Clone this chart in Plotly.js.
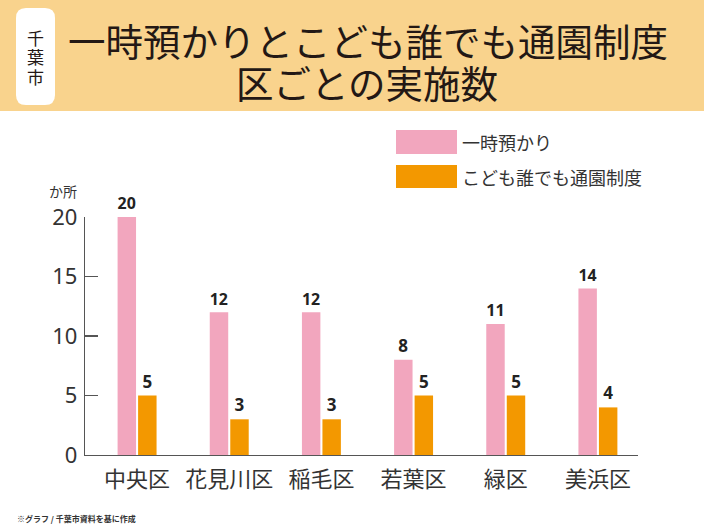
<!DOCTYPE html>
<html>
<head>
<meta charset="utf-8">
<script src="https://cdn.plot.ly/plotly-3.0.1.min.js"></script>
<style>html,body{margin:0;padding:0;background:#fff;}#chart{width:704px;height:528px;}</style>
</head>
<body>
<div id="chart"></div>
<script>
const categories = ["中央区", "花見川区", "稲毛区", "若葉区", "緑区", "美浜区"];
const seriesNames = ["一時預かり", "こども誰でも通園制度"];
const ichijiAzukari = [20, 12, 12, 8, 11, 14];
const daredemoTsuen = [5, 3, 3, 5, 5, 4];
const yTickVals = [0, 5, 10, 15, 20];
const titleLines = ["一時預かりとこども誰でも通園制度", "区ごとの実施数"];
const cityLabel = "千葉市";
const unitLabel = "か所";
const sourceNote = "※グラフ / 千葉市資料を基に作成";

const W = 704, H = 528;
const L = 85, R = 66, T = 217, B = 73;
const pw = W - L - R, ph = H - T - B;
const px = x => (x - L) / pw;
const py = y => (H - B - y) / ph;

const pink = "#F2A6BE", orange = "#F39800";
const JP = "Noto Sans CJK JP, Noto Sans, sans-serif";

const traces = [
  {type: "bar", x: categories, y: ichijiAzukari, name: seriesNames[0],
   marker: {color: pink}, texttemplate: "%{y}", textposition: "outside",
   textfont: {family: "Open Sans, sans-serif", size: 17, color: "#222", weight: 700},
   cliponaxis: false, hoverinfo: "none"},
  {type: "bar", x: categories, y: daredemoTsuen, name: seriesNames[1],
   marker: {color: orange}, texttemplate: "%{y}", textposition: "outside",
   textfont: {family: "Open Sans, sans-serif", size: 17, color: "#222", weight: 700},
   cliponaxis: false, hoverinfo: "none"}
];

function roundRect(x0, y0, x1, y1, r) {
  const X0 = px(x0), X1 = px(x1), Y0 = py(y0), Y1 = py(y1);
  const rx = r / pw, ry = r / ph;
  return `M ${X0 + rx} ${Y0} L ${X1 - rx} ${Y0} Q ${X1} ${Y0} ${X1} ${Y0 - ry} L ${X1} ${Y1 + ry} Q ${X1} ${Y1} ${X1 - rx} ${Y1} L ${X0 + rx} ${Y1} Q ${X0} ${Y1} ${X0} ${Y1 + ry} L ${X0} ${Y0 - ry} Q ${X0} ${Y0} ${X0 + rx} ${Y0} Z`;
}

const shapes = [
  {type: "rect", xref: "paper", yref: "paper", x0: px(0), x1: px(W), y0: py(0), y1: py(111),
   fillcolor: "#F9D38D", line: {width: 0}, layer: "below"},
  {type: "path", xref: "paper", yref: "paper", path: roundRect(16, 8, 55, 105, 10),
   fillcolor: "#FFFFFF", line: {width: 0}},
  {type: "rect", xref: "paper", yref: "paper", x0: px(396), x1: px(457), y0: py(130), y1: py(154),
   fillcolor: pink, line: {width: 0}},
  {type: "rect", xref: "paper", yref: "paper", x0: px(396), x1: px(457), y0: py(165), y1: py(188),
   fillcolor: orange, line: {width: 0}}
];

const annotations = [
  {text: titleLines[0], xref: "paper", yref: "paper", x: px(368), y: py(39), showarrow: false,
   xanchor: "center", yanchor: "middle", font: {family: JP, size: 37.5, color: "#231815"}},
  {text: titleLines[1], xref: "paper", yref: "paper", x: px(367), y: py(81), showarrow: false,
   xanchor: "center", yanchor: "middle", font: {family: JP, size: 37.5, color: "#231815"}},
  {text: unitLabel, xref: "paper", yref: "paper", x: px(79), y: py(191), showarrow: false,
   xanchor: "right", yanchor: "middle", font: {family: JP, size: 14, color: "#333"}},
  {text: sourceNote, xref: "paper", yref: "paper", x: px(15), y: py(518), showarrow: false,
   xanchor: "left", yanchor: "middle", font: {family: JP, size: 8, color: "#333", weight: 700}}
];

cityLabel.split("").forEach((ch, i) => {
  annotations.push({text: ch, xref: "paper", yref: "paper", x: px(35), y: py(37 + i * 19.5), showarrow: false,
    xanchor: "center", yanchor: "middle", font: {family: JP, size: 17, color: "#231815"}});
});
seriesNames.forEach((nm, i) => {
  annotations.push({text: nm, xref: "paper", yref: "paper", x: px(460), y: py(142 + i * 34.5), showarrow: false,
    xanchor: "left", yanchor: "middle", font: {family: JP, size: 18, color: "#333"}});
});

const layout = {
  width: W, height: H,
  margin: {l: L, r: R, t: T, b: B, pad: 0},
  paper_bgcolor: "#FFFFFF", plot_bgcolor: "rgba(0,0,0,0)",
  showlegend: false,
  barmode: "group", bargap: 0.555, bargroupgap: 0.1,
  font: {family: JP, color: "#333"},
  xaxis: {type: "category", range: [-0.565, 5.435], showline: true, linecolor: "#555", linewidth: 1.2,
          ticks: "", showgrid: false, zeroline: false, fixedrange: true,
          tickfont: {family: JP, size: 22, color: "#333"}, ticklabelstandoff: 4},
  yaxis: {range: [0, 20], tickvals: yTickVals, ticks: "inside", ticklen: 13, tickcolor: "#555", tickwidth: 1.2,
          showline: true, linecolor: "#555", linewidth: 1.2, showgrid: false, zeroline: false, fixedrange: true,
          tickfont: {family: "Noto Sans, sans-serif", size: 22, color: "#333"}, ticklabelstandoff: 2},
  shapes: shapes,
  annotations: annotations
};

Plotly.newPlot("chart", traces, layout, {staticPlot: true, displayModeBar: false});
</script>
</body>
</html>
